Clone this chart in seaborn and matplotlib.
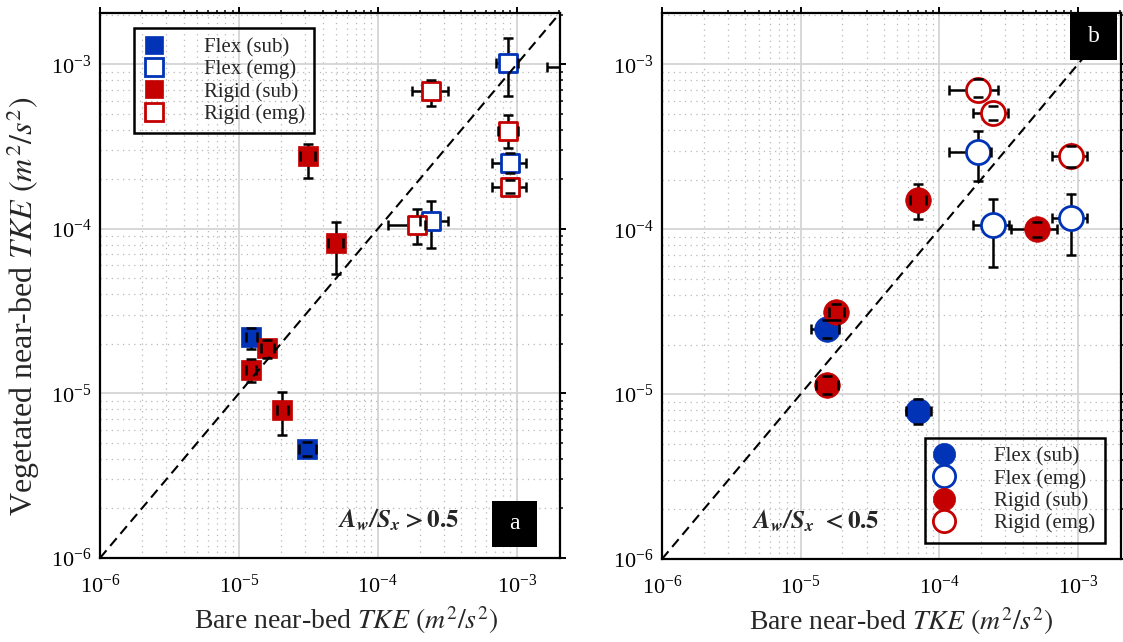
import numpy as np
import pandas as pd
import matplotlib
matplotlib.use("Agg")
import matplotlib.pyplot as plt
import seaborn as sns
from matplotlib.lines import Line2D
from matplotlib.patches import Rectangle
from matplotlib.ticker import LogLocator, NullFormatter

sns.set_theme(style="white")
plt.rcParams["font.family"] = ["Liberation Serif", "DejaVu Serif"]
plt.rcParams["mathtext.fontset"] = "stix"

BLUE = "#0033B5"
RED = "#C40000"
GROUPS = ["Flex (sub)", "Flex (emg)", "Rigid (sub)", "Rigid (emg)"]
LIM = [1e-6, 2.05e-3]
XTICKS = [1e-6, 1e-5, 1e-4, 1e-3]

# ---------------- panel a  (A_w/S_x > 0.5) ----------------
A_FLEX_SUB_X   = [1.23e-5, 3.1e-5]
A_FLEX_SUB_Y   = [2.19e-5, 4.6e-6]
A_FLEX_SUB_XLO = [1.12e-5, 2.7e-5]
A_FLEX_SUB_XHI = [1.34e-5, 3.6e-5]
A_FLEX_SUB_YLO = [1.85e-5, 4.15e-6]
A_FLEX_SUB_YHI = [2.5e-5, 5.05e-6]

A_FLEX_EMG_X   = [8.65e-4, 9.0e-4, 2.43e-4, 2.9e-3]
A_FLEX_EMG_Y   = [1.02e-3, 2.52e-4, 1.12e-4, 9.6e-4]
A_FLEX_EMG_XLO = [7.15e-4, 6.6e-4, 2.0e-4, 1.64e-3]
A_FLEX_EMG_XHI = [1.02e-3, 1.17e-3, 3.19e-4, 3.5e-3]
A_FLEX_EMG_YLO = [6.4e-4, 2.2e-4, 7.6e-5, 9.0e-4]
A_FLEX_EMG_YHI = [1.44e-3, 2.9e-4, 1.48e-4, 1.02e-3]

A_RIGID_SUB_X   = [3.12e-5, 4.97e-5, 1.6e-5, 1.22e-5, 2.06e-5]
A_RIGID_SUB_Y   = [2.77e-4, 8.15e-5, 1.88e-5, 1.38e-5, 7.9e-6]
A_RIGID_SUB_XLO = [2.75e-5, 4.4e-5, 1.45e-5, 1.12e-5, 1.88e-5]
A_RIGID_SUB_XHI = [3.55e-5, 5.6e-5, 1.8e-5, 1.33e-5, 2.25e-5]
A_RIGID_SUB_YLO = [2.04e-4, 5.3e-5, 1.65e-5, 1.17e-5, 5.6e-6]
A_RIGID_SUB_YHI = [3.3e-4, 1.1e-4, 2.1e-5, 1.61e-5, 1.02e-5]

A_RIGID_EMG_X   = [2.43e-4, 8.65e-4, 9.0e-4, 1.9e-4]
A_RIGID_EMG_Y   = [6.86e-4, 3.93e-4, 1.8e-4, 1.06e-4]
A_RIGID_EMG_XLO = [1.75e-4, 7.3e-4, 6.6e-4, 1.19e-4]
A_RIGID_EMG_XHI = [3.2e-4, 1.02e-3, 1.17e-3, 2.2e-4]
A_RIGID_EMG_YLO = [5.56e-4, 3.1e-4, 1.65e-4, 8.1e-5]
A_RIGID_EMG_YHI = [8.07e-4, 4.9e-4, 1.97e-4, 1.32e-4]

# ---------------- panel b  (A_w/S_x < 0.5) ----------------
B_FLEX_SUB_X   = [1.55e-5, 7.06e-5]
B_FLEX_SUB_Y   = [2.49e-5, 7.85e-6]
B_FLEX_SUB_XLO = [1.19e-5, 5.75e-5]
B_FLEX_SUB_XHI = [1.9e-5, 8.7e-5]
B_FLEX_SUB_YLO = [2.2e-5, 6.6e-6]
B_FLEX_SUB_YHI = [2.8e-5, 9.4e-6]

B_FLEX_EMG_X   = [1.91e-4, 2.46e-4, 9.0e-4]
B_FLEX_EMG_Y   = [2.95e-4, 1.06e-4, 1.17e-4]
B_FLEX_EMG_XLO = [1.18e-4, 1.74e-4, 6.5e-4]
B_FLEX_EMG_XHI = [2.36e-4, 3.2e-4, 1.17e-3]
B_FLEX_EMG_YLO = [1.96e-4, 5.9e-5, 7.0e-5]
B_FLEX_EMG_YHI = [3.94e-4, 1.52e-4, 1.63e-4]

B_RIGID_SUB_X   = [7.06e-5, 5.1e-4, 1.81e-5, 1.56e-5]
B_RIGID_SUB_Y   = [1.51e-4, 1.0e-4, 3.13e-5, 1.13e-5]
B_RIGID_SUB_XLO = [6.2e-5, 3.3e-4, 1.6e-5, 1.3e-5]
B_RIGID_SUB_XHI = [8.0e-5, 7.1e-4, 2.05e-5, 1.85e-5]
B_RIGID_SUB_YLO = [1.16e-4, 9.0e-5, 2.8e-5, 1.0e-5]
B_RIGID_SUB_YHI = [1.87e-4, 1.1e-4, 3.5e-5, 1.28e-5]

B_RIGID_EMG_X   = [1.91e-4, 2.44e-4, 9.0e-4]
B_RIGID_EMG_Y   = [6.95e-4, 5.08e-4, 2.78e-4]
B_RIGID_EMG_XLO = [1.18e-4, 1.74e-4, 6.5e-4]
B_RIGID_EMG_XHI = [2.67e-4, 3.16e-4, 1.17e-3]
B_RIGID_EMG_YLO = [6.3e-4, 4.6e-4, 2.4e-4]
B_RIGID_EMG_YHI = [8.1e-4, 5.6e-4, 3.2e-4]


def frame(group, x, y, xlo, xhi, ylo, yhi):
    return pd.DataFrame({"group": group, "x": x, "y": y,
                         "xlo": xlo, "xhi": xhi, "ylo": ylo, "yhi": yhi})


df_a = pd.concat([
    frame("Flex (sub)", A_FLEX_SUB_X, A_FLEX_SUB_Y, A_FLEX_SUB_XLO, A_FLEX_SUB_XHI, A_FLEX_SUB_YLO, A_FLEX_SUB_YHI),
    frame("Flex (emg)", A_FLEX_EMG_X, A_FLEX_EMG_Y, A_FLEX_EMG_XLO, A_FLEX_EMG_XHI, A_FLEX_EMG_YLO, A_FLEX_EMG_YHI),
    frame("Rigid (sub)", A_RIGID_SUB_X, A_RIGID_SUB_Y, A_RIGID_SUB_XLO, A_RIGID_SUB_XHI, A_RIGID_SUB_YLO, A_RIGID_SUB_YHI),
    frame("Rigid (emg)", A_RIGID_EMG_X, A_RIGID_EMG_Y, A_RIGID_EMG_XLO, A_RIGID_EMG_XHI, A_RIGID_EMG_YLO, A_RIGID_EMG_YHI),
], ignore_index=True)

df_b = pd.concat([
    frame("Flex (sub)", B_FLEX_SUB_X, B_FLEX_SUB_Y, B_FLEX_SUB_XLO, B_FLEX_SUB_XHI, B_FLEX_SUB_YLO, B_FLEX_SUB_YHI),
    frame("Flex (emg)", B_FLEX_EMG_X, B_FLEX_EMG_Y, B_FLEX_EMG_XLO, B_FLEX_EMG_XHI, B_FLEX_EMG_YLO, B_FLEX_EMG_YHI),
    frame("Rigid (sub)", B_RIGID_SUB_X, B_RIGID_SUB_Y, B_RIGID_SUB_XLO, B_RIGID_SUB_XHI, B_RIGID_SUB_YLO, B_RIGID_SUB_YHI),
    frame("Rigid (emg)", B_RIGID_EMG_X, B_RIGID_EMG_Y, B_RIGID_EMG_XLO, B_RIGID_EMG_XHI, B_RIGID_EMG_YLO, B_RIGID_EMG_YHI),
], ignore_index=True)


def style_axes(ax):
    ax.set_xscale("log")
    ax.set_yscale("log")
    ax.set_xlim(LIM)
    ax.set_ylim(LIM)
    ax.set_xticks(XTICKS)
    ax.set_yticks(XTICKS)
    ax.xaxis.set_minor_locator(LogLocator(base=10, subs=np.arange(2, 10)))
    ax.yaxis.set_minor_locator(LogLocator(base=10, subs=np.arange(2, 10)))
    ax.xaxis.set_minor_formatter(NullFormatter())
    ax.yaxis.set_minor_formatter(NullFormatter())
    ax.set_axisbelow(True)
    ax.grid(True, which="major", color="#d4d4d4", lw=1.3, ls="-")
    ax.grid(True, which="minor", color="#b8b8b8", lw=0.9, ls=(0, (1, 3.5)))
    ax.tick_params(which="both", direction="out", top=True, right=True,
                   color="black", labelsize=16, labelcolor="black")
    ax.tick_params(which="major", length=4, width=1.4)
    ax.tick_params(which="minor", length=2.5, width=1.1)
    ax.tick_params(axis="y", which="major", pad=2)
    ax.tick_params(axis="x", which="major", pad=8)
    for s in ax.spines.values():
        s.set_linewidth(1.6)
        s.set_color("black")
        s.set_visible(True)
    ax.plot(LIM, LIM, ls=(0, (4.8, 2.8)), color="black", lw=1.5, zorder=5)


def draw(ax, df, marker, s_fill, s_open):
    for g in GROUPS:
        sub = df[df.group == g]
        col = BLUE if g.startswith("Flex") else RED
        filled = "sub" in g
        sns.scatterplot(data=sub, x="x", y="y", ax=ax, marker=marker,
                        s=s_fill if filled else s_open, color=col,
                        facecolor=col if filled else "white", edgecolor=col,
                        linewidth=0.5 if filled else 2.0, zorder=3, legend=False)
        eb = ax.errorbar(sub.x, sub.y,
                         xerr=[sub.x - sub.xlo, sub.xhi - sub.x],
                         yerr=[sub.y - sub.ylo, sub.yhi - sub.y],
                         fmt="none", ecolor="black", elinewidth=1.8,
                         capsize=3.6, capthick=1.8, zorder=2.5)
        for cap in eb[1]:
            cap.set_zorder(4)
        for bl in eb[2]:
            bl.set_zorder(2.5)
    ax.set_xlabel("")
    ax.set_ylabel("")


def legend(ax, marker, ms, **kw):
    handles = []
    for g in GROUPS:
        col = BLUE if g.startswith("Flex") else RED
        filled = "sub" in g
        handles.append(Line2D([], [], ls="none", marker=marker, markersize=ms,
                              markerfacecolor=col if filled else "white",
                              markeredgecolor=col, markeredgewidth=2.0 if not filled else 0.5))
    leg = ax.legend(handles, GROUPS, fontsize=15, fancybox=False, framealpha=1,
                    edgecolor="black", handlelength=1.0, handletextpad=1.9,
                    labelspacing=0.12, borderpad=0.45, borderaxespad=0, **kw)
    leg.get_frame().set_facecolor("none")
    leg.get_frame().set_linewidth(1.8)
    leg.set_zorder(7)
    return leg


fig = plt.figure(figsize=(11.23, 6.42), dpi=100)
axa = fig.add_axes([100 / 1123, (642 - 558) / 642, 460 / 1123, 545 / 642])
axb = fig.add_axes([662 / 1123, (642 - 559) / 642, 459 / 1123, 546 / 642])

for ax in (axa, axb):
    style_axes(ax)

draw(axa, df_a, "s", 210, 185)
draw(axb, df_b, "o", 340, 300)

legend(axa, "s", 12.5, loc="upper left", bbox_to_anchor=(0.074, 0.972))
legend(axb, "o", 16, loc="lower right", bbox_to_anchor=(0.965, 0.03))

xlabel = "Bare near-bed $TKE$ $(m^2/s^2)$"
axa.set_xlabel(xlabel, fontsize=20)
axb.set_xlabel(xlabel, fontsize=20)
axa.xaxis.set_label_coords(0.535, -0.085)
axb.xaxis.set_label_coords(0.52, -0.085)
axa.set_ylabel("Vegetated near-bed $TKE$ $(m^2/s^2)$", fontsize=23)
axa.yaxis.set_label_coords(-0.125, 0.462)

axa.text(0.517, 0.07, r"$\mathbfit{A_w/S_x}$" + r"$\mathbf{>0.5}$", transform=axa.transAxes,
         fontsize=18, ha="left", va="center", zorder=6)
axb.text(0.196, 0.07, r"$\mathbfit{A_w/S_x}$ " + r"$\mathbf{<0.5}$", transform=axb.transAxes,
         fontsize=18, ha="left", va="center", zorder=6)

axa.add_patch(Rectangle((0.852, 0.02), 0.099, 0.085, transform=axa.transAxes,
                        fc="black", ec="none", zorder=8, clip_on=False))
axa.text(0.9015, 0.0625, "a", transform=axa.transAxes, color="white",
         fontsize=17, ha="center", va="center", zorder=9)
axb.add_patch(Rectangle((0.889, 0.914), 0.102, 0.086, transform=axb.transAxes,
                        fc="black", ec="none", zorder=8, clip_on=False))
axb.text(0.94, 0.957, "b", transform=axb.transAxes, color="white",
         fontsize=17, ha="center", va="center", zorder=9)

fig.savefig("out.png", dpi=100)
